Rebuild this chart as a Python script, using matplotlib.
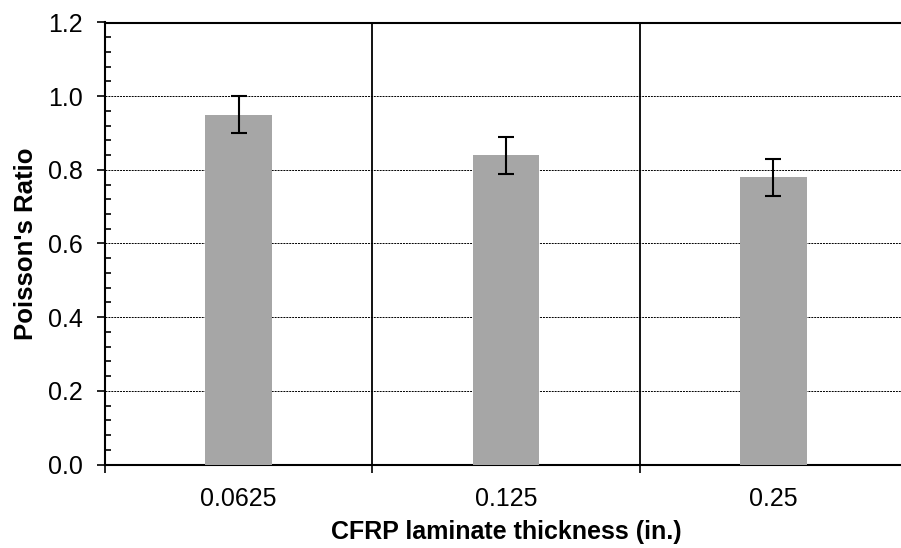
import matplotlib
matplotlib.use("Agg")
import matplotlib.pyplot as plt
from matplotlib.ticker import FixedLocator, NullFormatter, FixedFormatter

categories = ["0.0625", "0.125", "0.25"]
values = [0.95, 0.84, 0.78]
errors = [0.05, 0.05, 0.05]
y_ticks = [0.0, 0.2, 0.4, 0.6, 0.8, 1.0, 1.2]

plt.rcParams['font.family'] = ['Liberation Sans', 'DejaVu Sans']

fig = plt.figure(figsize=(9.01, 5.48), dpi=100)
W, H = 901, 548
left, right, top, bottom = 105, 907, 22.5, 464.5
ax = fig.add_axes([left / W, 1 - bottom / H, (right - left) / W, (bottom - top) / H])

x = list(range(len(categories)))
ax.bar(x, values, width=0.25, color="#A6A6A6", zorder=3)
ax.errorbar(x, values, yerr=errors, fmt="none", ecolor="black", elinewidth=1.5,
            capsize=6, capthick=1.5, zorder=4)

ax.set_xlim(-0.5, len(categories) - 0.5)
ax.set_ylim(0, 1.2)

# y ticks
ax.yaxis.set_major_locator(FixedLocator(y_ticks))
ax.set_yticklabels([f"{t:.1f}" for t in y_ticks])
ax.yaxis.set_minor_locator(FixedLocator([i * 0.04 for i in range(31)]))
ax.tick_params(axis="y", which="major", direction="out", length=6, width=1.2, labelsize=18, pad=10)
ax.tick_params(axis="y", which="minor", direction="in", length=4, width=1.2)

# x ticks: boundaries as major (out), centers as minor (in, labeled)
bounds = [i - 0.5 for i in range(len(categories) + 1)]
ax.xaxis.set_major_locator(FixedLocator(bounds))
ax.xaxis.set_major_formatter(NullFormatter())
ax.xaxis.set_minor_locator(FixedLocator(x))
ax.xaxis.set_minor_formatter(FixedFormatter(categories))
ax.tick_params(axis="x", which="major", direction="out", length=6, width=1.2)
ax.tick_params(axis="x", which="minor", direction="in", length=4, width=1.2, labelsize=18, pad=16)

# gridlines
for yv in y_ticks[1:-1]:
    ax.axhline(yv, color="black", lw=0.7, linestyle=(0, (2, 1)), zorder=1)
for b in bounds[1:-1]:
    ax.axvline(b, color="black", lw=1.3, zorder=2)

for s in ax.spines.values():
    s.set_linewidth(1.5)

ax.set_xlabel("CFRP laminate thickness (in.)", fontsize=18, fontweight="bold", labelpad=7)
ax.set_ylabel("Poisson's Ratio", fontsize=18.5, fontweight="bold", labelpad=7)

fig.savefig("out.png", dpi=100)
